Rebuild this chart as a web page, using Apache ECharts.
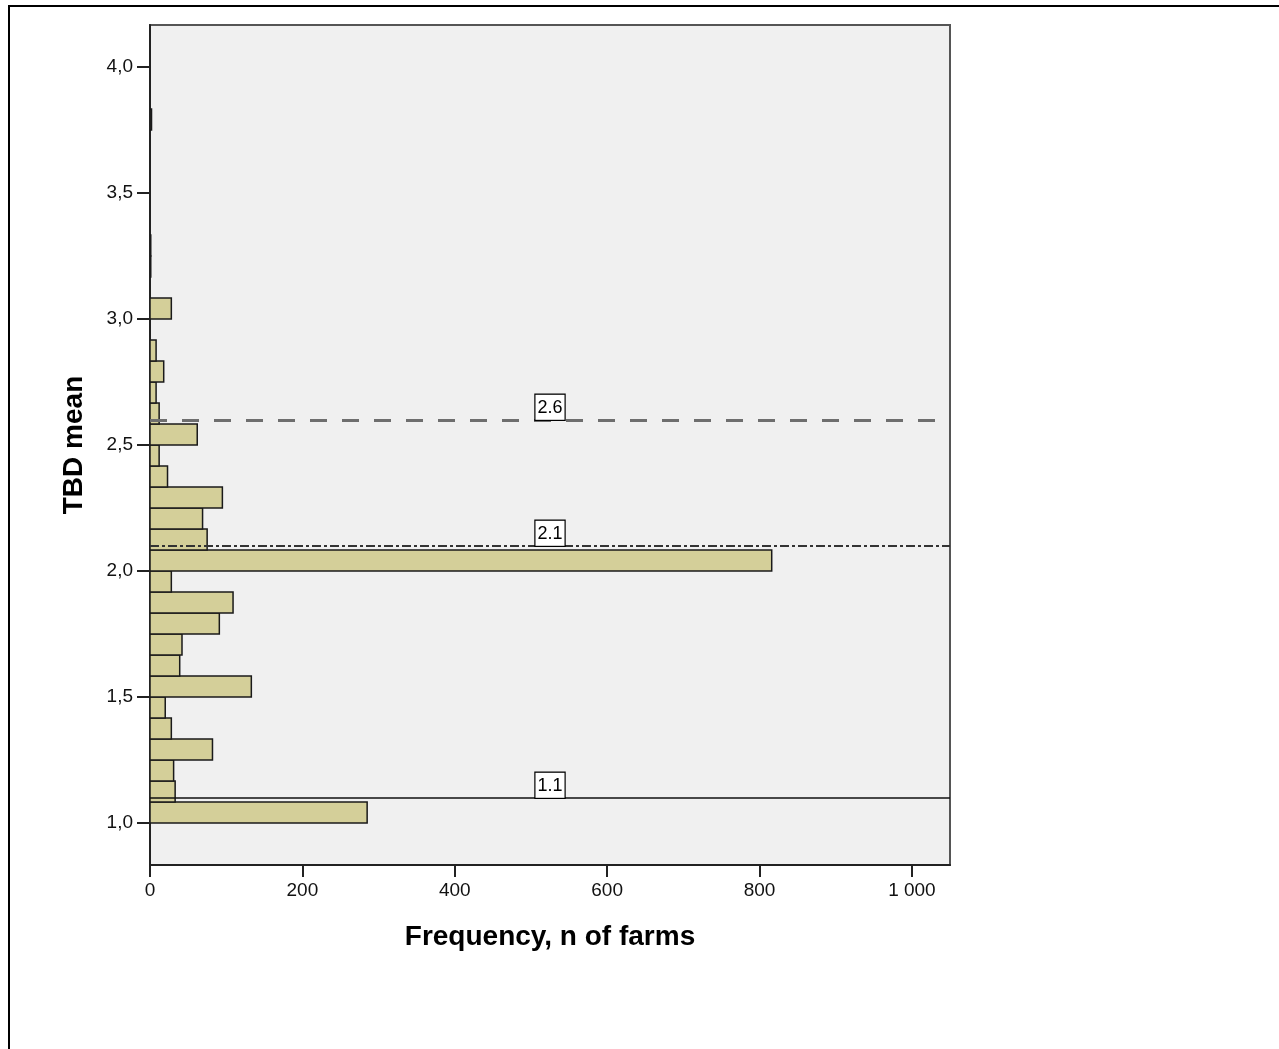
<!DOCTYPE html>
<html>
<head>
<meta charset="utf-8">
<script src="https://cdn.jsdelivr.net/npm/echarts@6/dist/echarts.min.js"></script>
<style>
html,body{margin:0;padding:0;background:#fff;}
#chart{width:1279px;height:1049px;}
</style>
</head>
<body>
<div id="chart"></div>
<script>
// Histogram bins: lower edge of first bin and bin width (TBD mean in steps of 1/12)
const firstBinStart = 1.0;
const binWidth = 1 / 12;
// Counts (n of farms) per bin, from bin starting at 1.0 upward
const counts = [285, 33, 31, 82, 28, 20, 133, 39, 42, 91, 109, 28, 816, 75, 69, 95, 23, 12, 62, 12, 8, 18, 8, 0, 28, 0, 1, 1, 0, 0, 0, 0, 0, 2];
// Reference lines
const refValues = [2.6, 2.1, 1.1];
const refLabels = ['2.6', '2.1', '1.1'];
// Axis ticks
const xTicks = [0, 200, 400, 600, 800, 1000];
const yTicks = [1.0, 1.5, 2.0, 2.5, 3.0, 3.5, 4.0];
const xMax = 1050;
const yMin = 10 / 12;
const yMax = 50 / 12;

const binData = [];
counts.forEach((c, i) => {
  if (c > 0) {
    const lo = firstBinStart + i * binWidth;
    binData.push([lo, lo + binWidth, c]);
  }
});

const refStyles = [
  { color: '#6e6e6e', width: 3, type: [17, 15] },
  { color: '#333333', width: 2, type: [9, 3, 3, 3] },
  { color: '#111111', width: 1.5, type: 'solid' }
];

const chart = echarts.init(document.getElementById('chart'), null, { renderer: 'canvas' });
const font = '"Liberation Sans", Arial, sans-serif';
chart.setOption({
  backgroundColor: '#ffffff',
  animation: false,
  grid: {
    left: 150, right: 329, top: 25, bottom: 184,
    show: true, backgroundColor: '#f0f0f0', borderColor: '#555555', borderWidth: 2
  },
  xAxis: {
    type: 'value', min: 0, max: xMax,
    name: 'Frequency, n of farms', nameLocation: 'middle', nameGap: 58,
    nameTextStyle: { fontFamily: font, fontWeight: 'bold', fontSize: 28, color: '#000' },
    axisLine: { show: true, lineStyle: { color: '#222', width: 2 } },
    axisTick: { show: true, inside: false, length: 12, customValues: xTicks, lineStyle: { color: '#222', width: 2 } },
    axisLabel: {
      customValues: xTicks, fontFamily: font, fontSize: 19, color: '#111', margin: 16,
      formatter: v => v >= 1000 ? String(v).replace(/\B(?=(\d{3})+(?!\d))/g, ' ') : String(v)
    },
    splitLine: { show: false }
  },
  yAxis: {
    type: 'value', min: yMin, max: yMax,
    name: 'TBD mean', nameLocation: 'middle', nameGap: 62,
    nameTextStyle: { fontFamily: font, fontWeight: 'bold', fontSize: 28, color: '#000' },
    axisLine: { show: true, lineStyle: { color: '#222', width: 2 } },
    axisTick: { show: true, inside: false, length: 13, customValues: yTicks, lineStyle: { color: '#222', width: 2 } },
    axisLabel: {
      customValues: yTicks, fontFamily: font, fontSize: 19, color: '#111', margin: 17,
      formatter: v => v.toFixed(1).replace('.', ',')
    },
    splitLine: { show: false }
  },
  series: [{
    type: 'custom',
    data: binData,
    encode: { x: 2, y: [0, 1] },
    clip: true,
    renderItem: function (params, api) {
      const lo = api.value(0), hi = api.value(1), c = api.value(2);
      const p0 = api.coord([0, hi]);
      const p1 = api.coord([c, lo]);
      return {
        type: 'rect',
        shape: { x: p0[0], y: p0[1], width: p1[0] - p0[0], height: p1[1] - p0[1] },
        style: { fill: '#d4cf99', stroke: '#1a1a1a', lineWidth: 1.5 }
      };
    },
    markLine: {
      silent: true, symbol: 'none', animation: false,
      data: refValues.map((v, i) => ({
        yAxis: v,
        lineStyle: refStyles[i],
        label: {
          show: true, position: 'middle', distance: 0, formatter: refLabels[i],
          fontFamily: font, fontSize: 18, color: '#000',
          backgroundColor: '#ffffff', borderColor: '#000', borderWidth: 1.2,
          padding: [4, 2, 3, 2]
        }
      }))
    }
  }],
  graphic: [
    { type: 'line', shape: { x1: 8, y1: 6, x2: 1279, y2: 6 }, style: { stroke: '#000', lineWidth: 2 } },
    { type: 'line', shape: { x1: 9, y1: 6, x2: 9, y2: 1049 }, style: { stroke: '#000', lineWidth: 2 } }
  ]
});
</script>
</body>
</html>
